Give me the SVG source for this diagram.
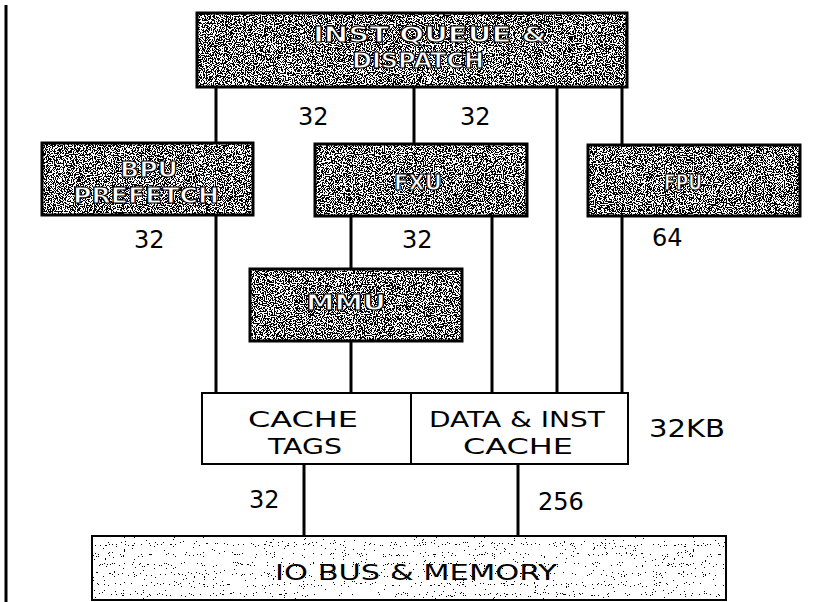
<svg xmlns="http://www.w3.org/2000/svg" width="830" height="602" viewBox="0 0 830 602">
<style>
  .bg { fill: #ffffff; }
  .dark { fill: #6a6a6a; filter: url(#grainDark); }
  .light { fill: #eeeeee; filter: url(#grainLight); }
  .frame { fill: none; stroke: #000; stroke-width: 3; }
  .thin { fill: #fff; stroke: #000; stroke-width: 2; }
  .wire { stroke: #000; stroke-width: 3; fill: none; }
  .lbl { font-family: "DejaVu Sans", "Liberation Sans", sans-serif; font-size: 24px; fill: #000; }
  .boxlbl { font-family: "DejaVu Sans", "Liberation Sans", sans-serif; font-size: 22px; font-weight: bold; fill: #ffffff; stroke: #000; stroke-width: 1.1; }
  .plain { font-family: "DejaVu Sans", "Liberation Sans", sans-serif; font-size: 22px; fill: #000; }
</style>
<defs>
  <filter id="grainDark" x="0" y="0" width="100%" height="100%">
    <feTurbulence type="fractalNoise" baseFrequency="0.9" numOctaves="1" seed="7" result="n"/>
    <feColorMatrix in="n" type="saturate" values="0" result="g"/>
    <feComponentTransfer in="g" result="b">
      <feFuncR type="discrete" tableValues="0 0 0 0 0 1 1 1 1 1"/>
      <feFuncG type="discrete" tableValues="0 0 0 0 0 1 1 1 1 1"/>
      <feFuncB type="discrete" tableValues="0 0 0 0 0 1 1 1 1 1"/>
      <feFuncA type="linear" slope="0" intercept="1"/>
    </feComponentTransfer>
    <feComposite in="b" in2="SourceGraphic" operator="in"/>
  </filter>
  <filter id="grainLight" x="0" y="0" width="100%" height="100%">
    <feTurbulence type="fractalNoise" baseFrequency="0.9" numOctaves="1" seed="3" result="n"/>
    <feColorMatrix in="n" type="saturate" values="0" result="g"/>
    <feComponentTransfer in="g" result="b">
      <feFuncR type="discrete" tableValues="0 0 0 0 0 0 0 1 1 1 1 1 1 1 1 1 1 1 1 1"/>
      <feFuncG type="discrete" tableValues="0 0 0 0 0 0 0 1 1 1 1 1 1 1 1 1 1 1 1 1"/>
      <feFuncB type="discrete" tableValues="0 0 0 0 0 0 0 1 1 1 1 1 1 1 1 1 1 1 1 1"/>
      <feFuncA type="linear" slope="0" intercept="1"/>
    </feComponentTransfer>
    <feComposite in="b" in2="SourceGraphic" operator="in"/>
  </filter>
</defs>
<rect class="bg" x="0" y="0" width="830" height="602"/>
<line x1="6" y1="5" x2="6" y2="602" stroke="#000" stroke-width="3"/>

<g id="connectors">
  <line class="wire" x1="216" y1="86" x2="216" y2="393"/>
  <line class="wire" x1="414" y1="86" x2="414" y2="144"/>
  <line class="wire" x1="557" y1="86" x2="557" y2="393"/>
  <line class="wire" x1="622" y1="86" x2="622" y2="145"/>
  <line class="wire" x1="622" y1="216" x2="622" y2="393"/>
  <line class="wire" x1="351" y1="216" x2="351" y2="269"/>
  <line class="wire" x1="351" y1="341" x2="351" y2="393"/>
  <line class="wire" x1="492" y1="216" x2="492" y2="393"/>
  <line class="wire" x1="304" y1="464" x2="304" y2="536"/>
  <line class="wire" x1="518" y1="464" x2="518" y2="536"/>
  <text class="lbl" x="298" y="125">32</text>
  <text class="lbl" x="460" y="125">32</text>
  <text class="lbl" x="134" y="248">32</text>
  <text class="lbl" x="402" y="248">32</text>
  <text class="lbl" x="652" y="246">64</text>
  <text class="lbl" x="249" y="508">32</text>
  <text class="lbl" x="538" y="510">256</text>
</g>

<g id="inst-queue">
  <rect class="dark" x="197" y="13" width="430" height="74"/>
  <rect class="frame" x="197" y="13" width="430" height="74"/>
  <text class="boxlbl" x="430" y="42" text-anchor="middle" textLength="234" lengthAdjust="spacingAndGlyphs">INST QUEUE &amp;</text>
  <text class="boxlbl" x="418" y="68" text-anchor="middle" textLength="132" lengthAdjust="spacingAndGlyphs">DISPATCH</text>
</g>

<g id="bpu">
  <rect class="dark" x="42" y="143" width="211" height="72"/>
  <rect class="frame" x="42" y="143" width="211" height="72"/>
  <text class="boxlbl" x="149" y="177" text-anchor="middle" textLength="58" lengthAdjust="spacingAndGlyphs">BPU</text>
  <text class="boxlbl" x="146" y="203" text-anchor="middle" textLength="146" lengthAdjust="spacingAndGlyphs">PREFETCH</text>
</g>

<g id="fxu">
  <rect class="dark" x="315" y="144" width="212" height="72"/>
  <rect class="frame" x="315" y="144" width="212" height="72"/>
  <text class="boxlbl" x="418" y="190" text-anchor="middle" textLength="48" lengthAdjust="spacingAndGlyphs">FXU</text>
</g>

<g id="fpu">
  <rect class="dark" x="588" y="145" width="212" height="71"/>
  <rect class="frame" x="588" y="145" width="212" height="71"/>
  <text class="boxlbl" x="683" y="190" text-anchor="middle" textLength="38" lengthAdjust="spacingAndGlyphs">FPU</text>
</g>

<g id="mmu">
  <rect class="dark" x="250" y="269" width="212" height="72"/>
  <rect class="frame" x="250" y="269" width="212" height="72"/>
  <text class="boxlbl" x="346" y="310" text-anchor="middle" textLength="80" lengthAdjust="spacingAndGlyphs">MMU</text>
</g>

<g id="cache">
  <rect class="thin" x="202" y="393" width="426" height="71"/>
  <line x1="411" y1="393" x2="411" y2="464" stroke="#000" stroke-width="2"/>
  <text class="plain" x="303" y="427" text-anchor="middle" textLength="110" lengthAdjust="spacingAndGlyphs">CACHE</text>
  <text class="plain" x="305" y="454" text-anchor="middle" textLength="74" lengthAdjust="spacingAndGlyphs">TAGS</text>
  <text class="plain" x="517" y="427" text-anchor="middle" textLength="176" lengthAdjust="spacingAndGlyphs">DATA &amp; INST</text>
  <text class="plain" x="518" y="454" text-anchor="middle" textLength="110" lengthAdjust="spacingAndGlyphs">CACHE</text>
  <text class="lbl" x="649" y="437" textLength="76" lengthAdjust="spacingAndGlyphs">32KB</text>
</g>

<g id="io-bus">
  <rect class="light" x="92" y="536" width="634" height="64"/>
  <rect x="92" y="536" width="634" height="64" fill="none" stroke="#000" stroke-width="2"/>
  <text class="plain" x="416" y="580" text-anchor="middle" textLength="282" lengthAdjust="spacingAndGlyphs">IO BUS &amp; MEMORY</text>
</g>
</svg>
